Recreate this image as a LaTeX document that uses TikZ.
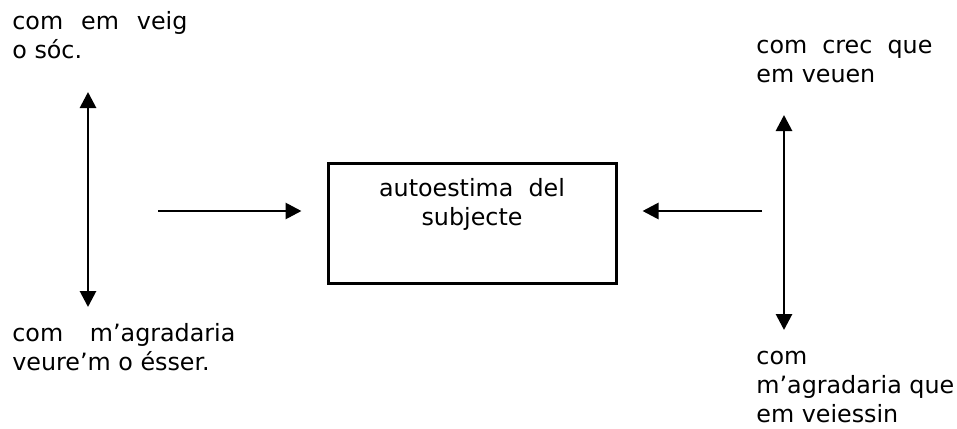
\documentclass[tikz,border=0pt]{standalone}
\usepackage{fontspec}
\setmainfont{DejaVu Sans}
\usepackage{tikz}
\usetikzlibrary{arrows.meta,positioning,calc}
\tikzset{
  txt/.style={anchor=base west, align=left, inner sep=0pt,
              font=\fontsize{11.9pt}{14.5pt}\selectfont},
  selfbox/.style={rectangle, draw=black, line width=1.5pt, fill=white,
                  minimum width=144pt, minimum height=60pt, inner sep=0pt},
  ar/.style={-{Triangle[length=8pt,width=8pt]}, line width=1.4pt},
  arb/.style={{Triangle[length=8pt,width=8pt]}-{Triangle[length=8pt,width=8pt]}, line width=1.4pt}
}
\begin{document}
\begin{tikzpicture}[x=0.5pt, y=-0.5pt]
\useasboundingbox (0,0) rectangle (957,428);
% ---- centre box (text nodes sit on the baseline of their last line) ----
\node[selfbox] (self) at (472,223) {};
\node[txt, anchor=base, align=center] (selftxt) at (472,225) {autoestima\ \ del\\subjecte};
% ---- left column ----
\node[txt] (seen) at (12,58) {\makebox[87.5pt][s]{com em veig}\\o sóc.};
\node[txt] (wish) at (12,370) {\makebox[111.5pt][s]{com m’agradaria}\\veure’m o ésser.};
\coordinate (ltop) at (88,92);
\coordinate (lbot) at (88,307);
\draw[arb] (ltop) -- (lbot);
\coordinate (lin) at (158,211);
\draw[ar, shorten >=12.5pt] (lin) -- (lin -| self.west);
% ---- right column ----
\node[txt] (others) at (756,82) {\makebox[88pt][s]{com crec que}\\em veuen};
\node[txt] (owish) at (756,422) {com\\m’agradaria que\\em veiessin};
\coordinate (rtop) at (784,115);
\coordinate (rbot) at (784,330);
\draw[arb] (rtop) -- (rbot);
\coordinate (rin) at (762,211);
\draw[ar, shorten >=12.5pt] (rin) -- (rin -| self.east);
\end{tikzpicture}
\end{document}
